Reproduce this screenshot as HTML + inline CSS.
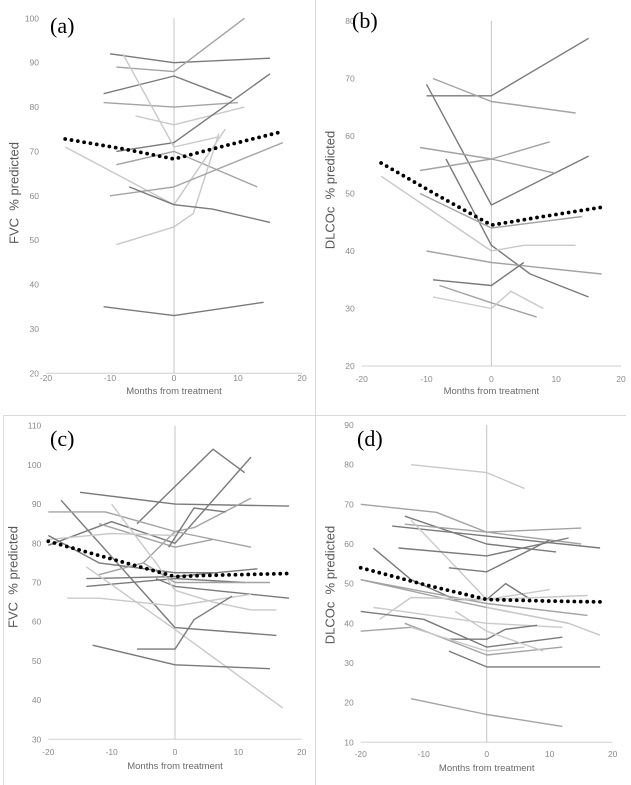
<!DOCTYPE html>
<html><head><meta charset="utf-8">
<style>
html,body{margin:0;padding:0;background:#fff;}
svg{display:block;font-family:"Liberation Sans",sans-serif;}
text{white-space:pre;}
</style></head>
<body>
<svg id="fig" width="631" height="785" viewBox="0 0 631 785"></svg>
<script>
// ---- data (months from treatment, % predicted) ----
const xTicks = [-20, -10, 0, 10, 20];
const aTicks = [20, 30, 40, 50, 60, 70, 80, 90, 100];
const bTicks = [20, 30, 40, 50, 60, 70, 80];
const cTicks = [30, 40, 50, 60, 70, 80, 90, 100, 110];
const dTicks = [10, 20, 30, 40, 50, 60, 70, 80, 90];

const aShade = ['d','m','d','m','l','d','l','m','l','l','m','d','d'];
const aSeries = [
 [[-10,92],[0,90],[15,91]],
 [[-9,89],[0,88],[11,100]],
 [[-11,83],[0,87],[9,82]],
 [[-11,81],[0,80],[10,81]],
 [[-6,78],[0,76],[11,80]],
 [[-9,70],[0,72],[15,87.5]],
 [[-8,92],[0,71],[7,73.3]],
 [[-9,67],[0,70],[13,62]],
 [[-17,71],[0,58],[8,75]],
 [[-9,49],[0,53],[3,56],[7,74]],
 [[-10,60],[0,62],[17,72]],
 [[-7,62],[0,58],[6,57],[15,54]],
 [[-11,35],[0,33],[14,36]]
];
const aMean = [[-17,72.8],[-8,70.6],[0,68.3],[8,71.3],[17,74.5]];

const bShade = ['d','m','d','d','m','m','m','l','m','d','m','l'];
const bSeries = [
 [[-10,67],[0,67],[15,77]],
 [[-9,70],[0,66],[13,64]],
 [[-10,69],[0,48],[15,56.5]],
 [[-7,56],[0,41],[6,36],[15,32]],
 [[-11,58],[0,56],[10,53.5]],
 [[-11,54],[0,56],[9,59]],
 [[-11,50],[0,44],[14,46]],
 [[-17,53],[0,40],[5,41],[13,41]],
 [[-10,40],[0,38],[17,36]],
 [[-9,35],[0,34],[5,38]],
 [[-8,34],[0,31],[7,28.5]],
 [[-9,32],[0,30],[3,33],[8,30]]
];
const bMean = [[-17,55.3],[-8,49.5],[0,44.5],[8,46],[17,47.6]];

const cShade = ['d','d','d','d','m','m','m','d','l','d','d','d','m','d','l','l','l','d','d'];
const cSeries = [
 [[-15,93],[0,90],[18,89.5]],
 [[-6,85],[6,104],[11,98]],
 [[-20,79.5],[-10,85.5],[0,80],[12,102]],
 [[-18,91],[0,58.5],[16,56.5]],
 [[-20,88],[-11,88],[0,83],[12,79]],
 [[-12,85],[0,79],[6,81]],
 [[-5,75],[0,83],[3,84],[12,91.5]],
 [[-1,79],[3,89],[8,88]],
 [[-20,81],[-10,82.5],[0,82]],
 [[-20,82],[-12,75],[0,72.5],[6,72.5]],
 [[-14,71],[0,71.5],[13,73.5]],
 [[-14,69],[0,71],[11,70]],
 [[-12,72],[-5,75],[0,70],[15,70]],
 [[-3,71],[0,69],[18,66]],
 [[-17,66],[-12,66],[0,64],[12,67]],
 [[-14,74],[0,58],[17,38]],
 [[-10,90],[-3,75],[0,68],[6,65],[12,63],[16,63]],
 [[-6,53],[0,53],[3,60.5],[9,66.5]],
 [[-13,54],[0,49],[15,48]]
];
const cMean = [[-20,80.5],[-10,76],[0,71.5],[5,71.8],[18,72.3]];

const dShade = ['l','m','d','d','m','l','d','d','d','m','m','l','l','d','m','d','m','l','l','d','m','l'];
const dSeries = [
 [[-12,80],[0,78],[6,74]],
 [[-20,70],[-8,68],[0,63],[15,64]],
 [[-13,67],[0,60],[11,58]],
 [[-15,64.5],[0,62],[18,59]],
 [[-13,65],[0,63],[15,60]],
 [[-12,66],[0,46],[10,48.5]],
 [[-14,59],[0,57],[13,61.5]],
 [[-6,54],[0,53],[10,61]],
 [[-18,59],[-12,51],[-5,46],[0,46],[3,50],[7,46]],
 [[-20,51],[0,45],[16,42]],
 [[-20,51],[-6,46],[0,44],[13,40]],
 [[-17,41],[-12,46.5],[0,46],[16,47]],
 [[-18,44],[0,40],[12,39]],
 [[-20,43],[-10,41],[0,34],[12,36.5]],
 [[-20,38],[-12,39]],
 [[-6,36],[0,36],[3,38.5],[8,39.5]],
 [[-13,40],[0,32],[12,34]],
 [[-12,39],[0,33],[6,34]],
 [[-5,43],[0,38],[9,33]],
 [[-6,33],[0,29],[18,29]],
 [[-12,21],[0,17],[12,14]],
 [[0,44],[13,40],[18,37]]
];
const dMean = [[-20,54],[-10,49.8],[0,46],[10,45.6],[18,45.4]];

// ---- layout ----
const panels = [
 {id:'a', letter:'(a)', title:'FVC  % predicted', ticks:aTicks, series:aSeries, shade:aShade, mean:aMean,
  x0:46, x1:302, yTop:18.3, yBot:373.3, titleX:14, titleY:193, lx:50, ly:33, xlabY:381, xtY:394},
 {id:'b', letter:'(b)', title:'DLCOc  % predicted', ticks:bTicks, series:bSeries, shade:bShade, mean:bMean,
  x0:361.7, x1:621, yTop:21, yBot:366, titleX:330, titleY:190, lx:352, ly:28, xlabY:382, xtY:394},
 {id:'c', letter:'(c)', title:'FVC  % predicted', ticks:cTicks, series:cSeries, shade:cShade, mean:cMean,
  x0:48.3, x1:301.7, yTop:425.7, yBot:739.3, titleX:13, titleY:577, lx:50, ly:446, xlabY:755, xtY:769},
 {id:'d', letter:'(d)', title:'DLCOc  % predicted', ticks:dTicks, series:dSeries, shade:dShade, mean:dMean,
  x0:360.7, x1:612.7, yTop:425, yBot:742.3, titleX:330, titleY:585, lx:357, ly:446, xlabY:757, xtY:771}
];
const colors = {d:'#7a7a7a', m:'#a3a3a3', l:'#c9c9c9'};
const NS = 'http://www.w3.org/2000/svg';
const svg = document.getElementById('fig');
function mk(tag, attrs, parent){
  const e = document.createElementNS(NS, tag);
  for (const k in attrs) e.setAttribute(k, attrs[k]);
  (parent||svg).appendChild(e); return e;
}

let fl = mk('line',{x1:315.5,y1:0,x2:315.5,y2:785,stroke:'#d9d9d9','stroke-width':1});


fl = mk('line',{x1:3,y1:415.5,x2:626,y2:415.5,stroke:'#d9d9d9','stroke-width':1});


fl = mk('line',{x1:3.5,y1:415,x2:3.5,y2:785,stroke:'#e0e0e0','stroke-width':1});



panels.forEach(p => {
  const tmin = p.ticks[0], tmax = p.ticks[p.ticks.length-1];
  const sx = v => p.x0 + (v - xTicks[0]) / (xTicks[xTicks.length-1] - xTicks[0]) * (p.x1 - p.x0);
  const sy = v => p.yBot - (v - tmin) / (tmax - tmin) * (p.yBot - p.yTop);
  const g = mk('g',{});
  
  

  const xa = mk('line',{x1:p.x0,y1:sy(tmin),x2:p.x1,y2:sy(tmin),stroke:'#d0d0d0','stroke-width':1},g);
  
  
  const zl = mk('line',{x1:sx(0),y1:sy(tmax),x2:sx(0),y2:sy(tmin),stroke:'#c4c4c4','stroke-width':1},g);
  
  

  p.ticks.forEach(t => {
    const tx = mk('text',{x:p.x0-7,y:sy(t)+3,'text-anchor':'end','font-size':8.5,fill:'#8a8a8a'},g);
    tx.textContent = t;
    
    
  });
  xTicks.forEach(t => {
    const tx = mk('text',{x:sx(t),y:p.xlabY,'text-anchor':'middle','font-size':8.5,fill:'#8a8a8a'},g);
    tx.textContent = t;
    
    
  });
  const xt = mk('text',{x:(p.x0+p.x1)/2,y:p.xtY,'text-anchor':'middle','font-size':9.5,fill:'#6a6a6a'},g);
  xt.textContent = 'Months from treatment';
  
  
  const yt = mk('text',{x:p.titleX,y:p.titleY,'text-anchor':'middle','font-size':13,fill:'#595959',
    transform:'rotate(-90 '+p.titleX+' '+p.titleY+')','dominant-baseline':'central'},g);
  yt.textContent = p.title;
  
  

  p.series.forEach((s,i) => {
    const pl = mk('polyline',{points:s.map(q=>sx(q[0]).toFixed(1)+','+sy(q[1]).toFixed(1)).join(' '),
      fill:'none',stroke:colors[p.shade[i]]||'#a3a3a3','stroke-width':1.4,'stroke-linejoin':'round'},g);
    
    
  });

  const mp = mk('polyline',{points:p.mean.map(q=>sx(q[0]).toFixed(1)+','+sy(q[1]).toFixed(1)).join(' '),
    fill:'none',stroke:'#000','stroke-width':3.8,'stroke-linecap':'round','stroke-dasharray':'0 6.4'},g);
  
  

  const lt = mk('text',{x:p.lx,y:p.ly,'font-size':22,fill:'#000','font-family':'"Liberation Serif",serif'},g);
  lt.textContent = p.letter;
  
  
});
</script>
</body></html>
